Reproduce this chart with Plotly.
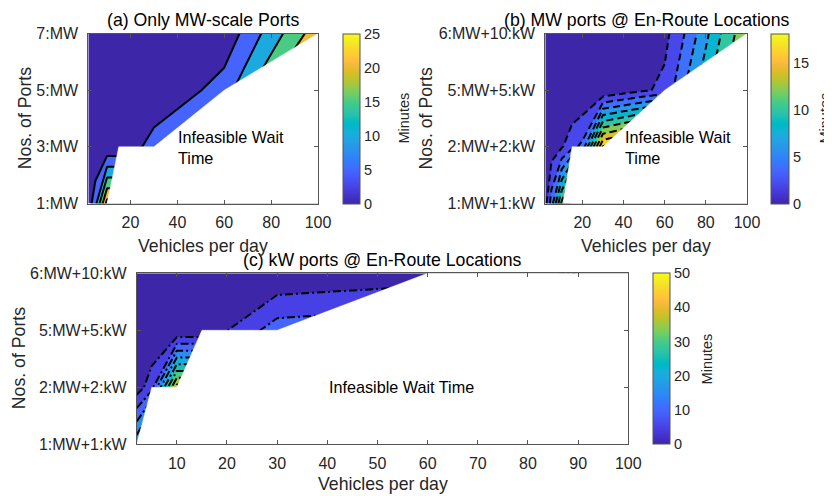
import plotly.graph_objects as go

# ---------------- data ----------------
# Panel (a): Only MW-scale ports
a_vehicles = [2, 5, 10, 15, 20, 30, 60, 100]
a_ports = [1, 2, 3, 4]
a_port_labels = ["1:MW", "3:MW", "5:MW", "7:MW"]
a_wait_row1 = [2.1, 8.3, 27, 27, 30, 35, 40, 45]
a_wait_row2 = [0, 0, 0.8, 0.8, 2.5, 7.5, 30, 40]
a_wait_row3 = [0, 0, 0, 0, 0, 0.2, 7.3, 35.4]
a_wait_row4 = [0, 0, 0, 0, 0, 0, 1.5, 23]
a_frontier_x = [10, 15, 30, 60, 100]
a_frontier_y = [1, 2, 2, 3, 4]

# Panel (b): MW ports @ En-Route locations
b_vehicles = [2, 5, 10, 15, 20, 30, 40, 50, 60, 70, 80, 90, 100]
b_ports = [1, 2, 3, 4]
b_port_labels = ["1:MW+1:kW", "2:MW+2:kW", "5:MW+5:kW", "6:MW+10:kW"]
b_wait_row1 = [1.2, 5, 12.5, 20, 24, 28, 30, 32, 34, 36, 38, 40, 42]
b_wait_row2 = [0, 0.95, 1.8, 3.33, 4.5, 18.2, 20, 22, 24, 26, 28, 30, 32]
b_wait_row3 = [0, 0, 0, 0, 0, 0, 0.84, 1.69, 2.53, 6.1, 9.5, 12.5, 15.5]
b_wait_row4 = [0, 0, 0, 0, 0, 0, 0, 0, 1.38, 4.1, 7.5, 10.9, 13.5]
b_frontier_x = [10.6, 15, 30, 60, 100]
b_frontier_y = [1, 2, 2, 3, 4]

# Panel (c): kW ports @ En-Route locations
c_vehicles = [2, 5, 10, 15, 20, 30, 60, 100]
c_ports = [1, 2, 3, 4]
c_port_labels = ["1:MW+1:kW", "2:MW+2:kW", "5:MW+5:kW", "6:MW+10:kW"]
c_wait_row1 = [23.5, 40, 50, 50, 50, 50, 50, 50]
c_wait_row2 = [2.2, 8, 42, 42, 45, 50, 50, 50]
c_wait_row3 = [0, 0, 0, 0, 4.9, 12.6, 14.9, 20]
c_wait_row4 = [0, 0, 0, 0, 0, 0.34, 2.2, 6]
c_frontier_x = [2, 5, 10, 15, 30, 60, 100]
c_frontier_y = [1, 2, 2, 3, 3, 4, 4]

a_ticks_x = [20, 40, 60, 80, 100]
b_ticks_x = [20, 40, 60, 80, 100]
c_ticks_x = [10, 20, 30, 40, 50, 60, 70, 80, 90, 100]
a_cbar_ticks = [0, 5, 10, 15, 20, 25]
b_cbar_ticks = [0, 5, 10, 15]
c_cbar_ticks = [0, 10, 20, 30, 40, 50]

# ---------------- styling ----------------
PARULA = [
    (0.2422, 0.1504, 0.6603), (0.2504, 0.1650, 0.7076), (0.2578, 0.1818, 0.7511), (0.2647, 0.1978, 0.7952),
    (0.2706, 0.2147, 0.8364), (0.2751, 0.2342, 0.8710), (0.2783, 0.2559, 0.8991), (0.2803, 0.2782, 0.9221),
    (0.2813, 0.3006, 0.9414), (0.2810, 0.3228, 0.9579), (0.2795, 0.3447, 0.9717), (0.2760, 0.3667, 0.9829),
    (0.2699, 0.3892, 0.9906), (0.2602, 0.4123, 0.9952), (0.2440, 0.4358, 0.9988), (0.2206, 0.4603, 0.9973),
    (0.1963, 0.4847, 0.9892), (0.1834, 0.5074, 0.9798), (0.1786, 0.5289, 0.9682), (0.1764, 0.5499, 0.9520),
    (0.1687, 0.5703, 0.9359), (0.1540, 0.5902, 0.9218), (0.1460, 0.6091, 0.9079), (0.1380, 0.6276, 0.8973),
    (0.1248, 0.6459, 0.8883), (0.1113, 0.6635, 0.8763), (0.0952, 0.6798, 0.8598), (0.0689, 0.6948, 0.8394),
    (0.0297, 0.7082, 0.8163), (0.0036, 0.7203, 0.7917), (0.0067, 0.7312, 0.7660), (0.0433, 0.7411, 0.7394),
    (0.0964, 0.7500, 0.7120), (0.1408, 0.7584, 0.6842), (0.1717, 0.7670, 0.6554), (0.1938, 0.7758, 0.6251),
    (0.2161, 0.7843, 0.5923), (0.2470, 0.7918, 0.5567), (0.2906, 0.7973, 0.5188), (0.3406, 0.8008, 0.4789),
    (0.3909, 0.8029, 0.4354), (0.4456, 0.8024, 0.3909), (0.5044, 0.7993, 0.3480), (0.5616, 0.7942, 0.3045),
    (0.6174, 0.7876, 0.2612), (0.6720, 0.7793, 0.2227), (0.7242, 0.7698, 0.1910), (0.7738, 0.7598, 0.1646),
    (0.8203, 0.7498, 0.1535), (0.8634, 0.7406, 0.1596), (0.9035, 0.7330, 0.1774), (0.9393, 0.7288, 0.2100),
    (0.9728, 0.7298, 0.2394), (0.9956, 0.7434, 0.2371), (0.9970, 0.7659, 0.2199), (0.9952, 0.7893, 0.2028),
    (0.9892, 0.8136, 0.1885), (0.9786, 0.8386, 0.1766), (0.9676, 0.8639, 0.1643), (0.9610, 0.8890, 0.1537),
    (0.9597, 0.9135, 0.1423), (0.9628, 0.9373, 0.1265), (0.9691, 0.9606, 0.1064), (0.9769, 0.9839, 0.0805),
]


def rgb(c):
    return "rgb(%d,%d,%d)" % tuple(round(v * 255) for v in c)


def parula_at(frac):
    i = max(0, min(len(PARULA) - 1, int(frac * len(PARULA))))
    return rgb(PARULA[i])


PARULA_SCALE = [[i / (len(PARULA) - 1), rgb(c)] for i, c in enumerate(PARULA)]


def band_scale(start, end, size, cmax):
    nc = int(round((end - start) / size)) + 1
    cs = []
    for k in range(nc + 1):
        lower = 0 if k == 0 else start + (k - 1) * size
        cs.append([k / nc, parula_at(lower / cmax)])
    return cs


FONT = "Liberation Sans, Arial, Helvetica, sans-serif"
PAGE_OFF = 8               # default page margin around the figure
W, H = 832 - PAGE_OFF, 496 - PAGE_OFF
AXC = "#555555"
TXT = "#262626"


def px(x):
    return (x - PAGE_OFF) / W


def py(y):
    return 1 - (y - PAGE_OFF) / H


fig = go.Figure()


def add_panel(xs, ys, rows, start, end, size, cmax, dash, fx, fy, xa, ya,
              cb_x, cb_top, cb_bot, cb_thick, cb_ticks):
    fig.add_trace(go.Contour(
        x=xs, y=ys, z=rows, xaxis=xa, yaxis=ya,
        autocontour=False,
        contours=dict(start=start, end=end, size=size, coloring="fill", showlines=True),
        colorscale=band_scale(start, end, size, cmax), showscale=False,
        line=dict(color="black", width=2, dash=dash, smoothing=0),
        hoverinfo="skip",
    ))
    # infeasible region (white), bounded by the feasibility frontier
    mx = list(fx) + [max(xs), fx[0]]
    my = list(fy) + [min(ys), min(ys)]
    fig.add_trace(go.Scatter(
        x=mx, y=my, xaxis=xa, yaxis=ya, mode="lines", fill="toself",
        fillcolor="white", line=dict(color="white", width=0.5),
        hoverinfo="skip", showlegend=False,
    ))
    # continuous colorbar
    fig.add_trace(go.Scatter(
        x=[None], y=[None], xaxis=xa, yaxis=ya, mode="markers",
        marker=dict(color=[0], cmin=0, cmax=cmax, colorscale=PARULA_SCALE, showscale=True,
                    colorbar=dict(x=px(cb_x), xanchor="left", y=py((cb_top + cb_bot) / 2),
                                  yanchor="middle", len=(cb_bot - cb_top) / H, lenmode="fraction",
                                  thickness=cb_thick, thicknessmode="pixels", xpad=0, ypad=0,
                                  outlinewidth=1, outlinecolor=AXC,
                                  tickvals=cb_ticks, ticks="",
                                  tickfont=dict(family=FONT, size=14.5, color=TXT))),
        hoverinfo="skip", showlegend=False,
    ))


add_panel(a_vehicles, a_ports, [a_wait_row1, a_wait_row2, a_wait_row3, a_wait_row4],
          5, 25, 5, 25, "solid", a_frontier_x, a_frontier_y, "x", "y",
          342.7, 33.5, 203.5, 16.6, a_cbar_ticks)
add_panel(b_vehicles, b_ports, [b_wait_row1, b_wait_row2, b_wait_row3, b_wait_row4],
          2, 18, 2, 18.2, "7px,4px", b_frontier_x, b_frontier_y, "x2", "y2",
          771, 33.5, 203.5, 18.3, b_cbar_ticks)
add_panel(c_vehicles, c_ports, [c_wait_row1, c_wait_row2, c_wait_row3, c_wait_row4],
          5, 45, 5, 50, "8px,3px,2px,3px", c_frontier_x, c_frontier_y, "x3", "y3",
          652.7, 273.3, 444, 16.6, c_cbar_ticks)


def xaxis(dom, ticks, anchor):
    return dict(domain=dom, anchor=anchor, range=[2, 100], tickvals=ticks, showline=True,
                linecolor=AXC, linewidth=1, mirror="ticks", ticks="inside", ticklen=4,
                tickwidth=1, tickcolor=AXC, showgrid=False, zeroline=False,
                ticklabelstandoff=4,
                tickfont=dict(family=FONT, size=16, color=TXT))


def yaxis(dom, anchor, labels):
    return dict(domain=dom, anchor=anchor, range=[1, 4], tickvals=[1, 2, 3, 4], ticktext=labels,
                showline=True, linecolor=AXC, linewidth=1, mirror="ticks", ticks="inside",
                ticklen=4, tickwidth=1, tickcolor=AXC, showgrid=False, zeroline=False,
                ticklabelstandoff=6,
                tickfont=dict(family=FONT, size=16, color=TXT))


fig.update_layout(
    width=W, height=H, margin=dict(l=0, r=0, t=0, b=0, autoexpand=False),
    paper_bgcolor="white", plot_bgcolor="white", showlegend=False,
    xaxis=xaxis([px(88.3), px(318)], a_ticks_x, "y"),
    yaxis=yaxis([py(203.5), py(33.5)], "x", a_port_labels),
    xaxis2=xaxis([px(545.3), px(747)], b_ticks_x, "y2"),
    yaxis2=yaxis([py(203.5), py(33.5)], "x2", b_port_labels),
    xaxis3=xaxis([px(136.7), px(628.3)], c_ticks_x, "y3"),
    yaxis3=yaxis([py(444.3), py(273.3)], "x3", c_port_labels),
)


def note(text, x, y, size, angle=0, xanchor="center", color="black", align="center"):
    fig.add_annotation(text=text, x=px(x), y=py(y), xref="paper", yref="paper",
                       xanchor=xanchor, yanchor="middle", textangle=angle, showarrow=False,
                       align=align, borderpad=0,
                       font=dict(family=FONT, size=size, color=color))


note("(a) Only MW-scale Ports", 203, 19.7, 17.7)
note("(b) MW ports @ En-Route Locations", 646.5, 19.7, 17.7)
note("(c) kW ports @ En-Route Locations", 382, 259.5, 17.7)
note("Vehicles per day", 203, 245.5, 17.7, color=TXT)
note("Vehicles per day", 646, 245.5, 17.7, color=TXT)
note("Vehicles per day", 382.5, 484, 17.7, color=TXT)
note("Nos. of Ports", 25.7, 118.5, 17.7, angle=-90, color=TXT)
note("Nos. of Ports", 426, 118.5, 17.7, angle=-90, color=TXT)
note("Nos. of Ports", 18.5, 358.7, 17.7, angle=-90, color=TXT)
note("Minutes", 404, 118.5, 14.5, angle=-90, color=TXT)
note("Minutes", 825, 118.5, 14.5, angle=-90, color=TXT)
note("Minutes", 706.7, 358.7, 14.5, angle=-90, color=TXT)
note("Infeasible Wait<br>Time", 176.7, 147.4, 16.2, xanchor="left", align="left")
note("Infeasible Wait<br>Time", 624.3, 147.4, 16.2, xanchor="left", align="left")
note("Infeasible Wait Time", 328.3, 387.4, 16.2, xanchor="left", align="left")

fig.write_html("out.html")
